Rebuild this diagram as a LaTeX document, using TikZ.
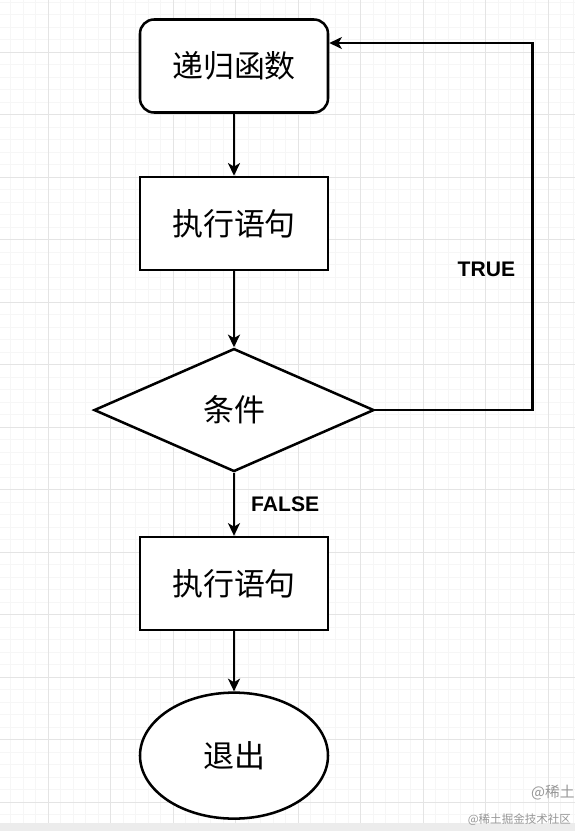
\documentclass[tikz,border=0pt]{standalone}
\usepackage{fontspec}
\newfontfamily\cjk{Noto Sans CJK SC}
\newfontfamily\tflatin{Liberation Sans}
\usetikzlibrary{shapes.geometric,arrows.meta,positioning,calc}
\definecolor{gridminor}{RGB}{246,246,246}
\definecolor{gridmajor}{RGB}{228,228,228}
\definecolor{markgray}{RGB}{150,150,150}
\definecolor{barcol}{RGB}{236,236,236}

\begin{document}
\begin{tikzpicture}[
    >={Stealth[length=9pt, width=8.5pt, inset=2.5pt]},
    flowbox/.style={draw, line width=1.8pt, fill=white, minimum width=4.7cm, minimum height=2.325cm,
                    font=\cjk\fontsize{22}{26}\selectfont},
    startbox/.style={flowbox, rounded corners=10pt},
    condbox/.style={flowbox, diamond, inner sep=0pt, minimum width=7cm, minimum height=3.075cm},
    endbox/.style={flowbox, ellipse, minimum height=3.15cm},
    arr/.style={->, line width=1.8pt},
    tflabel/.style={font=\tflatin\bfseries\fontsize{15}{18}\selectfont},
    watermark/.style={font=\cjk#1, text=markgray, inner sep=0pt},
]

% ============ BACKGROUND GRID ============
\useasboundingbox (0,0) rectangle (14.375,-20.775);
\begin{scope}
  \clip (0,0) rectangle (14.375,-20.775);
  \begin{scope}[shift={(1.2,-1.3)}]
    \draw[gridminor, line width=0.4pt, step=0.3125] (-1.6,-20) grid (13.5,1.6);
    \draw[gridmajor, line width=0.6pt, step=1.5625] (-1.6,-20) grid (13.5,1.6);
  \end{scope}
  \fill[barcol] (0,-20.575) rectangle (14.375,-20.775);
\end{scope}

% ============ FLOW NODES ============
\node[startbox] at (5.85,-1.65) (recur) {递归函数};
\node[flowbox, below=1.55cm of recur] (exec1) {执行语句};
\node[condbox, below=1.9cm of exec1] (cond) {条件};
\node[flowbox, below=1.575cm of cond] (exec2) {执行语句};
\node[endbox, below=1.5cm of exec2] (quit) {退出};

% ============ ARROWS ============
\draw[arr] (recur) -- (exec1);
\draw[arr] (exec1) -- (cond);
\draw[arr] (cond) -- node[right, tflabel, xshift=8pt] {FALSE} (exec2);
\draw[arr] (exec2) -- (quit);

% loop back on TRUE
\coordinate[right=3.925cm of cond.east] (loop);
\draw[arr] (cond.east) -- (loop) |- node[pos=0.19, left, tflabel, xshift=-8pt, yshift=1pt] {TRUE} ([yshift=5.75mm]recur.east);

% ============ WATERMARKS ============
\node[watermark=\fontsize{10.5}{12}\selectfont, anchor=east] at (14.375,-19.82) (wm1) {@稀土};
\node[watermark=\fontsize{8.2}{10}\selectfont, anchor=east] at (14.28,-20.5) (wm2) {@稀土掘金技术社区};

\end{tikzpicture}
\end{document}
